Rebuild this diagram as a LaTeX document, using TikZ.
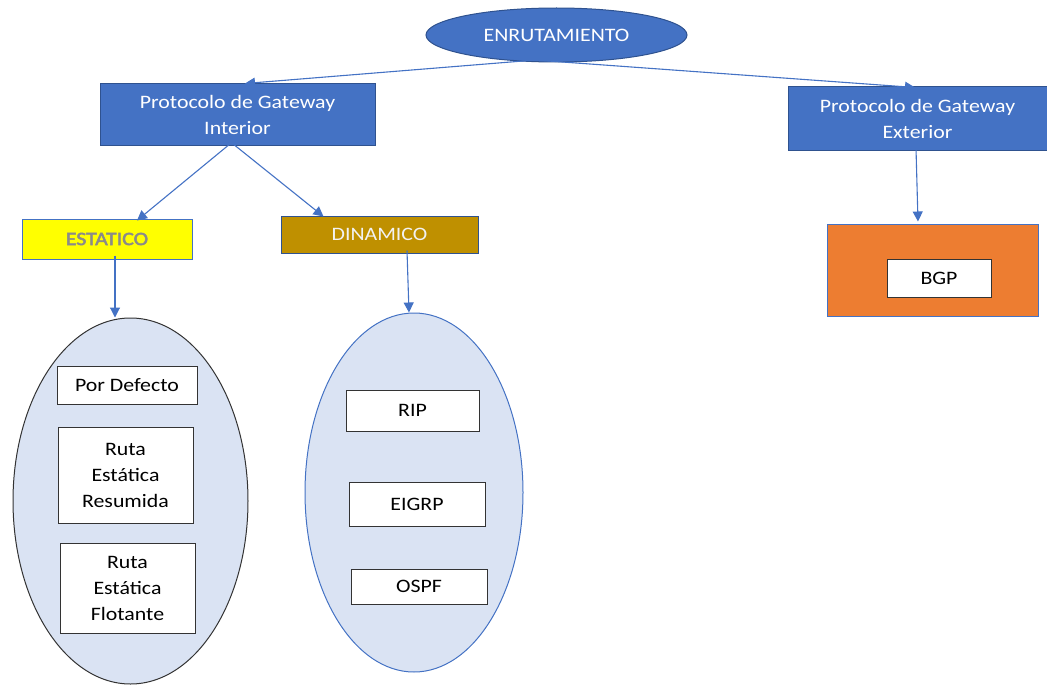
\documentclass[tikz,border=0pt]{standalone}
\usepackage{fontspec}
\setmainfont{Carlito}[FakeStretch=1.15]
\newfontfamily\estfont{Carlito}[FakeStretch=1.15, FakeBold=2.5]
\usetikzlibrary{arrows.meta,shapes.geometric}
\definecolor{mblue}{HTML}{4472C4}
\definecolor{dblue}{HTML}{2F528F}
\definecolor{lblue}{HTML}{DAE3F3}
\definecolor{gold}{HTML}{BF9000}
\definecolor{orng}{HTML}{ED7D31}
\definecolor{ylw}{HTML}{FFFF00}
\definecolor{greytxt}{HTML}{8A8A8A}
\begin{document}
\begin{tikzpicture}[x=1pt,y=-1pt,
  every node/.style={font=\fontsize{19}{26}\selectfont, align=center, inner sep=0pt},
  bluebox/.style={rectangle, draw=dblue, fill=mblue, text=white, line width=1pt},
  whitebox/.style={rectangle, draw=black!80, fill=white, line width=1pt},
  bigoval/.style={ellipse, fill=lblue, line width=1pt},
  arr/.style={draw=mblue, line width=1.1pt, -{Triangle[length=10pt,width=10pt]}}
]
\useasboundingbox (0,0) rectangle (1047,685);
% top
\node[ellipse, draw=dblue, fill=mblue, text=white, line width=1pt, minimum width=261pt, minimum height=54pt] (enr) at (556.5,35) {ENRUTAMIENTO};
\node[bluebox, minimum width=275pt, minimum height=61pt] (int) at (237.5,114.5) {Protocolo de Gateway\\Interior};
\node[bluebox, minimum width=259pt, minimum height=63pt] (ext) at (917.5,118.5) {Protocolo de Gateway\\Exterior};
% second level
\node[rectangle, draw=mblue, fill=ylw, text=greytxt, line width=1pt, minimum width=170pt, minimum height=40pt, font=\fontsize{19}{26}\estfont] (est) at (107,239) {ESTATICO};
\node[rectangle, draw=dblue, fill=gold, text=white!95!black, line width=1pt, minimum width=197pt, minimum height=37pt] (din) at (379.5,234.5) {DINAMICO};
\node[rectangle, draw=mblue, fill=orng, line width=1pt, minimum width=211pt, minimum height=92pt] (org) at (932.5,270) {};
\node[whitebox, minimum width=104pt, minimum height=38pt] (bgp) at (939,278) {BGP};
% ovals
\node[bigoval, draw=black!80, minimum width=235pt, minimum height=366pt] (lov) at (130.5,501) {};
\node[bigoval, draw=mblue, minimum width=218pt, minimum height=359pt] (rov) at (414,492.5) {};
% left contents
\node[whitebox, minimum width=140pt, minimum height=38pt] (pd) at (127,385) {Por Defecto};
\node[whitebox, minimum width=135pt, minimum height=96pt] (rer) at (125.5,475) {Ruta\\Estática\\Resumida};
\node[whitebox, minimum width=135pt, minimum height=90pt] (ref) at (127.5,588) {Ruta\\Estática\\Flotante};
% right contents
\node[whitebox, minimum width=133pt, minimum height=41pt] (rip) at (412.5,410.5) {RIP};
\node[whitebox, minimum width=136pt, minimum height=44pt] (eig) at (417,504) {EIGRP};
\node[whitebox, minimum width=136pt, minimum height=35pt] (osp) at (419,586.5) {OSPF};
% connectors
\draw[arr] ([xshift=-15pt,yshift=3pt]enr.south) -- ([xshift=7.5pt]int.north);
\draw[arr] ([xshift=-15pt,yshift=2pt]enr.south) -- ([xshift=-2.5pt,yshift=-1pt]ext.north);
\draw[arr] ([xshift=-7pt,yshift=2pt]int.south) -- ([xshift=30pt,yshift=-2pt]est.north);
\draw[arr] ([xshift=-5pt,yshift=2pt]int.south) -- ([xshift=-56pt,yshift=-1pt]din.north);
\draw[arr] ([xshift=8pt,yshift=4pt]est.south) -- ([xshift=-15.5pt]lov.north);
\draw[arr] ([xshift=27.5pt,yshift=3pt]din.south) -- ([xshift=-5pt]rov.north);
\draw[arr] ([xshift=-1.5pt,yshift=2pt]ext.south) -- ([xshift=-14.5pt,yshift=2pt]org.north);
\end{tikzpicture}
\end{document}
